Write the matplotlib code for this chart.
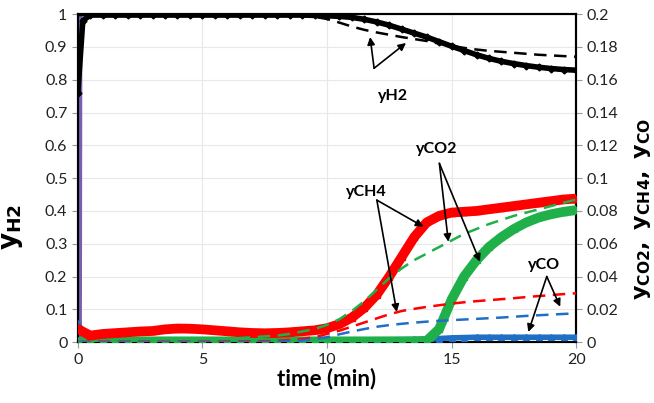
import numpy as np
import matplotlib
matplotlib.use("Agg")
import matplotlib.pyplot as plt
from matplotlib.ticker import FormatStrFormatter, MultipleLocator

plt.rcParams['font.family'] = ['Lato', 'DejaVu Sans']

# time grid (min), every half minute
t = np.arange(0, 20.5, 0.5)

# measured yH2 (left axis), first points at 0 and 0.2 min
t_h2 = [0, 0.2] + list(t[1:])
h2_exp = [0.76, 0.98, 0.997, 0.997, 0.997, 0.997, 0.997, 0.997, 0.997, 0.997,
          0.997, 0.997, 0.997, 0.997, 0.997, 0.997, 0.997, 0.997, 0.997, 0.997,
          0.996, 0.995, 0.993, 0.99, 0.984, 0.976, 0.966, 0.954, 0.942, 0.93,
          0.916, 0.902, 0.889, 0.876, 0.865, 0.856, 0.849, 0.843, 0.838, 0.834,
          0.831, 0.829]
# model yH2
h2_mod = [0.997, 0.997, 0.997, 0.997, 0.997, 0.997, 0.997, 0.997, 0.997, 0.997,
          0.997, 0.997, 0.997, 0.997, 0.997, 0.997, 0.997, 0.996, 0.995, 0.992,
          0.985, 0.974, 0.962, 0.952, 0.944, 0.937, 0.93, 0.924, 0.918, 0.91,
          0.903, 0.897, 0.892, 0.888, 0.885, 0.882, 0.879, 0.876, 0.874, 0.872,
          0.87]

# right axis species
ch4_exp = [0.008, 0.004, 0.005, 0.0055, 0.006, 0.0065, 0.0068, 0.0078, 0.0083, 0.0082,
           0.0078, 0.0072, 0.0066, 0.006, 0.0056, 0.0054, 0.0056, 0.006, 0.0066, 0.0072,
           0.0085, 0.011, 0.015, 0.021, 0.029, 0.04, 0.052, 0.064, 0.073, 0.077,
           0.079, 0.0795, 0.08, 0.081, 0.082, 0.083, 0.084, 0.085, 0.086, 0.087,
           0.0875]
ch4_mod = [0.0, 0.0003, 0.0003, 0.0003, 0.0003, 0.0003, 0.0003, 0.0003, 0.0003, 0.0003,
           0.0003, 0.0003, 0.0004, 0.0004, 0.0005, 0.0006, 0.0008, 0.0013, 0.002, 0.003,
           0.005, 0.007, 0.0095, 0.012, 0.0145, 0.017, 0.019, 0.0203, 0.0215, 0.0225,
           0.0235, 0.0243, 0.025, 0.0256, 0.0262, 0.0268, 0.0275, 0.0281, 0.0287, 0.0293,
           0.0298]
co2_exp = [0.0, 0.0005, 0.0005, 0.0005, 0.0005, 0.0005, 0.0005, 0.0005, 0.0005, 0.0005,
           0.0005, 0.0005, 0.0005, 0.0005, 0.0005, 0.0005, 0.0005, 0.0005, 0.0005, 0.0005,
           0.0005, 0.0005, 0.0005, 0.0005, 0.0005, 0.0005, 0.0005, 0.0005, 0.0008, 0.008,
           0.026, 0.04, 0.05, 0.058, 0.064, 0.069, 0.073, 0.076, 0.078, 0.0795,
           0.0805]
co2_mod = [0.0, 0.0, 0.0, 0.0002, 0.0003, 0.0004, 0.0005, 0.0007, 0.001, 0.0012,
           0.0015, 0.0017, 0.002, 0.0025, 0.003, 0.0035, 0.004, 0.005, 0.0065, 0.008,
           0.0105, 0.014, 0.019, 0.025, 0.032, 0.039, 0.045, 0.05, 0.054, 0.058,
           0.062, 0.066, 0.069, 0.072, 0.0745, 0.077, 0.079, 0.081, 0.083, 0.085,
           0.087]
co_exp = [0.011, 0.0008, 0.0008, 0.0008, 0.0008, 0.0008, 0.0008, 0.0008, 0.0008, 0.0008,
          0.0008, 0.0008, 0.0008, 0.0008, 0.0008, 0.0008, 0.0008, 0.0008, 0.0008, 0.001,
          0.001, 0.0012, 0.0013, 0.0014, 0.0015, 0.0015, 0.0016, 0.0017, 0.0018, 0.0022,
          0.0026, 0.0028, 0.003, 0.003, 0.003, 0.003, 0.003, 0.003, 0.003, 0.003,
          0.003]
co_mod = [0.0, 0.0, 0.0, 0.0, 0.0, 0.0, 0.0, 0.0, 0.0, 0.0,
          0.0, 0.0, 0.0, 0.0, 0.0, 0.0001, 0.0002, 0.0005, 0.001, 0.0018,
          0.003, 0.0048, 0.0065, 0.008, 0.0094, 0.0104, 0.0112, 0.0119, 0.0125, 0.013,
          0.0134, 0.0138, 0.0142, 0.0146, 0.015, 0.0155, 0.016, 0.0164, 0.0168, 0.0172,
          0.0175]

# initial feed spike (left axis)
t_feed = [0.08, 0.1, 0.3]
y_feed = [0.0, 1.0, 1.0]

# annotations in right-axis units: label, text pos, arrow base, arrow tips
notes = [
    ("yH2", (12.65, 0.150), (11.89, 0.167), [(11.73, 0.186), (13.17, 0.1824)]),
    ("yCO2", (14.4, 0.118), (14.51, 0.109), [(14.87, 0.0612), (16.14, 0.049)]),
    ("yCH4", (11.59, 0.0916), (12.0, 0.0866), [(13.87, 0.0704), (12.8, 0.0184)]),
    ("yCO", (18.69, 0.047), (18.82, 0.040), [(19.36, 0.0216), (18.08, 0.0062)]),
]

fig = plt.figure(figsize=(6.54, 4.03), dpi=100)
ax = fig.add_axes([0.119, 0.151, 0.762, 0.814])
ax2 = ax.twinx()

red = '#ff0000'
green = '#1fb04a'
blue = '#1f6fc5'
dash = (0, (5, 3))

ax.plot(t_feed, y_feed, color='#7a5fb0', lw=3, zorder=3)
ax.plot(t, h2_mod, color='black', lw=1.8, ls=dash, zorder=4)
ax.plot(t_h2, h2_exp, color='black', lw=4, marker='D', ms=3.5, zorder=5)
ax.plot([0, 0], [0, 0.76], color='black', lw=1.5, zorder=4)

ax2.plot(t, co_exp, color=blue, lw=4, marker='^', ms=4.5, zorder=3)
ax2.plot(t, co2_exp, color=green, lw=7, marker='s', ms=5, zorder=4)
ax2.plot(t, ch4_exp, color=red, lw=7, marker='s', ms=5, zorder=5)
ax2.plot(t, co2_mod, color=green, lw=1.8, ls=dash, zorder=6)
ax2.plot(t, ch4_mod, color=red, lw=1.8, ls=dash, zorder=6)
ax2.plot(t, co_mod, color=blue, lw=1.8, ls=dash, zorder=6)

ax.set_xlim(0, 20)
ax.set_ylim(0, 1)
ax2.set_ylim(0, 0.2)
ax.xaxis.set_major_locator(MultipleLocator(5))
ax.yaxis.set_major_locator(MultipleLocator(0.1))
ax2.yaxis.set_major_locator(MultipleLocator(0.02))
ax.yaxis.set_major_formatter(FormatStrFormatter('%g'))
ax2.yaxis.set_major_formatter(FormatStrFormatter('%g'))
ax.grid(True, color='#e8e8e8', lw=0.8)
ax.set_axisbelow(True)

for a in (ax, ax2):
    a.tick_params(labelsize=11.5, colors='#222222', length=4, color='#999999')
    for s in a.spines.values():
        s.set_color('black')
        s.set_linewidth(1.5)

ax.set_xlabel('time (min)', fontsize=16, fontweight='bold', labelpad=1)
ax.set_ylabel(r'$\mathbf{y_{H2}}$', fontsize=19)
ax.yaxis.set_label_coords(-0.105, 0.35)
ax2.set_ylabel(r'$\mathbf{y_{CO2},\ y_{CH4},\ y_{CO}}$', fontsize=16)
ax2.yaxis.set_label_coords(1.115, 0.405)

for label, txt, base, tips in notes:
    ax2.text(txt[0], txt[1], label, fontsize=11.5, fontweight='bold',
             ha='center', va='center', zorder=10)
    for tip in tips:
        ax2.annotate('', xy=tip, xytext=base, zorder=10,
                     arrowprops=dict(arrowstyle='-|>', color='black', lw=1.2,
                                     mutation_scale=11, shrinkA=0, shrinkB=0))

fig.savefig('out.png', dpi=100)
